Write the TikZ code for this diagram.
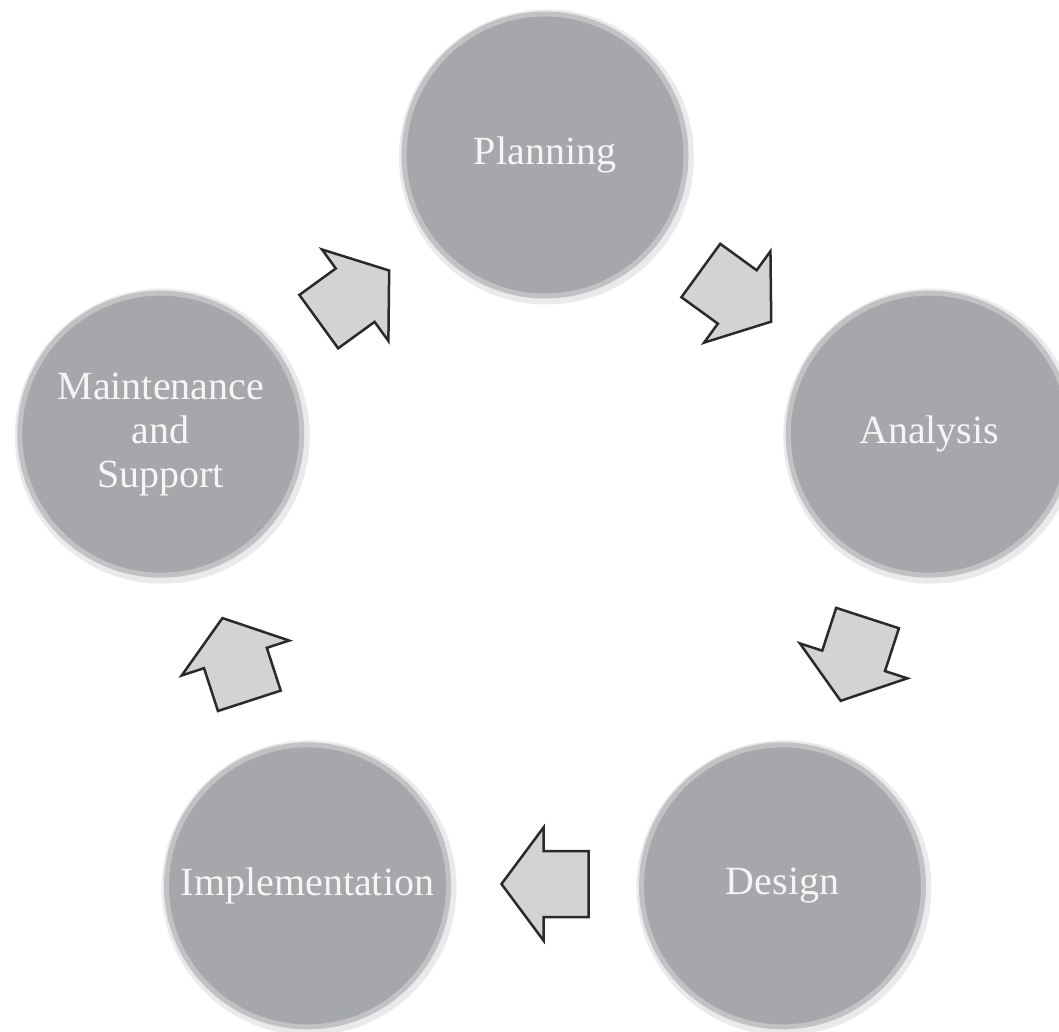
\documentclass[tikz,border=0pt]{standalone}
\usepackage{fontspec}
\setmainfont{Liberation Serif}
\definecolor{circfill}{HTML}{A6A7AB}
\definecolor{circrim}{HTML}{C2C2C5}
\definecolor{halo}{HTML}{EAEAEC}
\definecolor{arrfill}{HTML}{D3D3D4}
\definecolor{arrline}{HTML}{2A2A2A}
\begin{document}
\begin{tikzpicture}[x=1pt,y=1pt,
  phase/.style={circle, minimum size=282pt, inner sep=0pt, fill=circfill,
    draw=circrim, line width=5pt, text=white!96!black,
    font=\fontsize{40}{44}\selectfont, align=center},
  haloring/.style={fill=halo},
  blockarrow/.style={fill=arrfill, draw=arrline, line width=2.5pt, line join=miter}]
\useasboundingbox (-545,559) rectangle (514,-472);
% soft halo behind the circles
\foreach \a in {90,18,-54,-126,162}
  \fill[haloring] ([shift={(1.5,-2)}]\a:404) circle (147.5);
% the five phases
\node[phase] (plan)  at (90:404)   {Planning};
\node[phase] (anal)  at (18:404)   {Analysis};
\node[phase] (des)   at (-54:404)  {Design};
\node[phase] (impl)  at (-126:404) {Implementation};
\node[phase] (maint) at (162:404)  {Maintenance\\and\\Support};
% block arrows between the phases
\foreach \a in {126,54,-18,-90,-162}
  \draw[blockarrow, shift={(\a:325)}, rotate=\a-90]
    (-43.5,-33) -- (1.5,-33) -- (1.5,-56.5) -- (43.5,0) -- (1.5,56.5)
    -- (1.5,33) -- (-43.5,33) -- cycle;
\end{tikzpicture}
\end{document}
